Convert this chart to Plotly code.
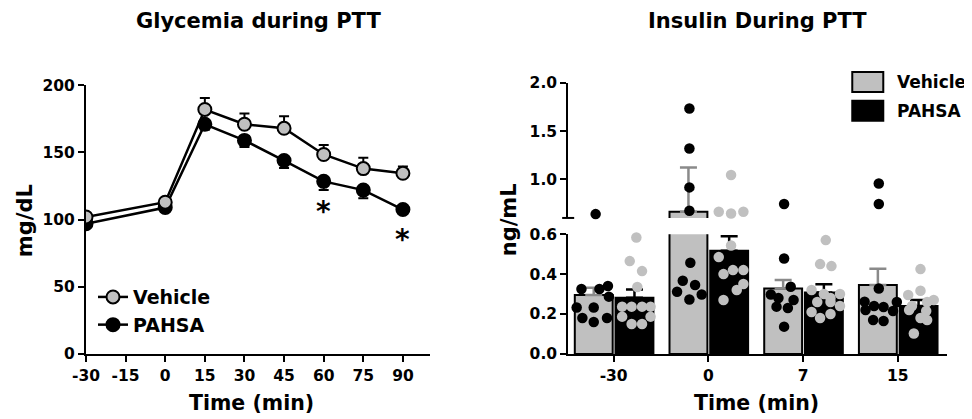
import plotly.graph_objects as go

# ---------------- data ----------------
glyc_time = [-30, 0, 15, 30, 45, 60, 75, 90]
glyc_ticks = [-30, -15, 0, 15, 30, 45, 60, 75, 90]
veh_glu = [102, 113, 182, 171, 168, 148.5, 138, 134.5]
veh_glu_sem = [2, 2, 8.5, 8, 9, 7, 8, 5]
pah_glu = [97, 109, 171, 159, 144, 128.5, 122, 107.5]
pah_glu_sem = [2, 2, 4, 5, 5.5, 6.5, 6, 3]
sig_times = [60, 90]

ins_cats = ['-30', '0', '7', '15']
veh_ins_mean = [0.295, 0.664, 0.328, 0.345]
veh_ins_sem = [0.037, 0.46, 0.042, 0.082]
pah_ins_mean = [0.282, 0.517, 0.308, 0.24]
pah_ins_sem = [0.041, 0.073, 0.041, 0.03]

veh_ins_pts = [
    [0.64, 0.325, 0.325, 0.34, 0.233, 0.233, 0.287, 0.18, 0.16, 0.18],
    [1.736, 1.32, 0.917, 0.675, 0.457, 0.367, 0.345, 0.312, 0.298, 0.273],
    [0.744, 0.478, 0.337, 0.298, 0.28, 0.27, 0.237, 0.23, 0.137],
    [0.958, 0.744, 0.328, 0.262, 0.24, 0.235, 0.26, 0.22, 0.215, 0.17, 0.165],
]
veh_ins_jit = [
    [0.02, -0.13, 0.06, 0.15, -0.18, 0.0, 0.16, -0.12, 0.0, 0.14],
    [0.01, 0.01, 0.01, 0.01, 0.02, -0.06, 0.07, -0.12, 0.14, 0.01],
    [0.01, 0.01, 0.08, -0.13, -0.05, 0.11, -0.07, 0.05, 0.01],
    [0.01, 0.01, 0.01, -0.14, -0.04, 0.06, 0.2, -0.13, 0.16, -0.05, 0.06],
]
pah_ins_pts = [
    [0.583, 0.465, 0.415, 0.335, 0.237, 0.237, 0.237, 0.237, 0.187, 0.187, 0.15, 0.15],
    [1.045, 0.664, 0.647, 0.664, 0.543, 0.485, 0.42, 0.42, 0.40, 0.35, 0.32, 0.27],
    [0.57, 0.45, 0.44, 0.32, 0.30, 0.30, 0.28, 0.26, 0.26, 0.24, 0.21, 0.20, 0.18],
    [0.425, 0.317, 0.295, 0.27, 0.26, 0.24, 0.22, 0.215, 0.18, 0.17, 0.103],
]
pah_ins_jit = [
    [0.02, -0.05, 0.08, 0.03, -0.13, -0.03, 0.08, 0.17, -0.13, 0.17, -0.03, 0.08],
    [0.02, -0.11, 0.02, 0.15, 0.02, -0.11, 0.04, 0.15, -0.06, 0.15, 0.08, -0.06],
    [0.02, -0.04, 0.08, -0.13, 0.0, 0.17, 0.07, -0.07, 0.07, 0.17, -0.13, 0.07, -0.04],
    [0.02, 0.02, -0.11, 0.16, 0.09, -0.07, -0.1, 0.08, 0.02, 0.09, -0.05],
]
break_val = 0.6

# ---------------- layout helpers (window pixel -> paper) ----------------
OFF = 8                      # page body margin
W, H = 972 - OFF, 419 - OFF
L, T = 86 - OFF, 82.7 - OFF
R = W - (946.7 - OFF)
B = H - (354 - OFF)
PW, PH = W - L - R, H - T - B


def px_x(px):
    return (px - OFF - L) / PW


def px_y(py):
    return (H + OFF - B - py) / PH


FONT = "DejaVu Sans"
GRAY = "#c0c0c0"
EGRAY = "#8a8a8a"
VOFF, POFF, BW = -0.21, 0.22, 0.40

fig = go.Figure()

# ---------------- left: glycemia ----------------
fig.add_trace(go.Scatter(
    x=glyc_time, y=pah_glu, name="PAHSA", mode="lines+markers", legendrank=2,
    line=dict(color="black", width=2.5),
    marker=dict(size=13, color="black", line=dict(color="black", width=2)),
    error_y=dict(type="data", symmetric=False, array=[0] * len(pah_glu_sem),
                 arrayminus=pah_glu_sem, color="black", thickness=2, width=5),
    xaxis="x", yaxis="y"))
fig.add_trace(go.Scatter(
    x=glyc_time, y=veh_glu, name="Vehicle", mode="lines+markers", legendrank=1,
    line=dict(color="black", width=2.5),
    marker=dict(size=13, color=GRAY, line=dict(color="black", width=2)),
    error_y=dict(type="data", symmetric=False, array=veh_glu_sem,
                 arrayminus=[0] * len(veh_glu_sem), color="black", thickness=2, width=5),
    xaxis="x", yaxis="y"))

for t in sig_times:
    i = glyc_time.index(t)
    fig.add_annotation(x=t, y=pah_glu[i], xref="x", yref="y", text="<b>*</b>",
                       showarrow=False, yshift=-30, xanchor="center", yanchor="middle",
                       font=dict(family=FONT, size=28, color="black"))

# ---------------- right: insulin ----------------
idx = list(range(len(ins_cats)))
for ax in ["y2", "y3"]:
    fig.add_trace(go.Bar(x=[i + VOFF for i in idx], y=veh_ins_mean, width=BW,
                         marker=dict(color=GRAY, line=dict(color="black", width=2)),
                         showlegend=False, xaxis="x2", yaxis=ax))
    fig.add_trace(go.Bar(x=[i + POFF for i in idx], y=pah_ins_mean, width=BW,
                         marker=dict(color="black", line=dict(color="black", width=2)),
                         showlegend=False, xaxis="x2", yaxis=ax))

# error bars (one-sided, upward)
for means, sems, off, col in [(veh_ins_mean, veh_ins_sem, VOFF, EGRAY),
                              (pah_ins_mean, pah_ins_sem, POFF, "black")]:
    for ax, cond in [("y2", lambda v: v < break_val), ("y3", lambda v: v >= break_val)]:
        sel = [i for i in idx if cond(means[i])]
        if not sel:
            continue
        fig.add_trace(go.Scatter(
            x=[i + off for i in sel], y=[means[i] for i in sel], mode="markers",
            marker=dict(size=1, color="rgba(0,0,0,0)"), showlegend=False,
            error_y=dict(type="data", symmetric=False, array=[sems[i] for i in sel],
                         arrayminus=[0] * len(sel), color=col, thickness=2.5, width=8.5),
            cliponaxis=False, xaxis="x2", yaxis=ax))

# individual points
for pts, jit, off, col in [(veh_ins_pts, veh_ins_jit, VOFF, "black"),
                           (pah_ins_pts, pah_ins_jit, POFF, GRAY)]:
    for ax, cond in [("y2", lambda v: v < break_val), ("y3", lambda v: v >= break_val)]:
        xs, ys = [], []
        for i in idx:
            for v, j in zip(pts[i], jit[i]):
                if cond(v):
                    xs.append(i + off + j)
                    ys.append(v)
        fig.add_trace(go.Scatter(x=xs, y=ys, mode="markers",
                                 marker=dict(size=10.5, color=col, line=dict(width=0)),
                                 showlegend=False, cliponaxis=False, xaxis="x2", yaxis=ax))

# ---------------- axes ----------------
axis_common = dict(showline=True, linecolor="black", linewidth=2, ticks="outside",
                   ticklen=6, tickwidth=2, tickcolor="black", showgrid=False,
                   zeroline=False,
                   tickfont=dict(family=FONT, size=15.5, color="black", weight="bold"))

fig.update_layout(
    xaxis=dict(domain=[0, px_x(430)], range=[-30, 100.3], anchor="y",
               tickvals=glyc_ticks, ticktext=[str(v) for v in glyc_ticks], **axis_common),
    yaxis=dict(domain=[0, px_y(85)], range=[0, 200], anchor="x",
               tickvals=[0, 50, 100, 150, 200], **axis_common),
    xaxis2=dict(domain=[px_x(568), 1], range=[-0.48, 3.52], anchor="y2",
                tickvals=idx, ticktext=ins_cats, **axis_common),
    yaxis2=dict(domain=[0, px_y(234)], range=[0, break_val], anchor="x2",
                tickvals=[0, 0.2, 0.4, 0.6], ticktext=["0.0", "0.2", "0.4", "0.6"],
                **axis_common),
    yaxis3=dict(domain=[px_y(217.8), 1], range=[break_val, 2.0], anchor="x2",
                tickvals=[1.0, 1.5, 2.0], ticktext=["1.0", "1.5", "2.0"], **axis_common),
)

# axis break end mark
fig.add_shape(type="line", xref="paper", yref="paper",
              x0=px_x(562), x1=px_x(574), y0=px_y(217.8), y1=px_y(217.8),
              line=dict(color="black", width=2))

# right legend (manual swatches)
for name, fill, top in [("Vehicle", GRAY, 71.7), ("PAHSA", "black", 100.5)]:
    fig.add_shape(type="rect", xref="paper", yref="paper",
                  x0=px_x(852), x1=px_x(883), y0=px_y(top + 20), y1=px_y(top),
                  fillcolor=fill, line=dict(color="black", width=2))
    fig.add_annotation(xref="paper", yref="paper", x=px_x(895), y=px_y(top + 10),
                       xanchor="left", yanchor="middle", showarrow=False, text=name,
                       font=dict(family=FONT, size=17, color="black", weight="bold"))

# titles and axis titles
txt = dict(family=FONT, color="black", weight="bold")
common_ann = dict(xref="paper", yref="paper", showarrow=False,
                  xanchor="center", yanchor="middle")
fig.add_annotation(x=px_x(258), y=px_y(21), text="Glycemia during PTT",
                   font=dict(size=21, **txt), **common_ann)
fig.add_annotation(x=px_x(757), y=px_y(21), text="Insulin During PTT",
                   font=dict(size=21, **txt), **common_ann)
fig.add_annotation(x=px_x(251), y=px_y(403), text="Time (min)",
                   font=dict(size=20.5, **txt), **common_ann)
fig.add_annotation(x=px_x(756), y=px_y(403), text="Time (min)",
                   font=dict(size=20.5, **txt), **common_ann)
fig.add_annotation(x=px_x(25), y=px_y(220), text="mg/dL", textangle=-90,
                   font=dict(size=21, **txt), **common_ann)
fig.add_annotation(x=px_x(509), y=px_y(220), text="ng/mL", textangle=-90,
                   font=dict(size=21, **txt), **common_ann)

fig.update_layout(
    width=W, height=H, margin=dict(l=L, r=R, t=T, b=B, pad=0),
    paper_bgcolor="white", plot_bgcolor="white", barmode="overlay",
    font=dict(family=FONT, color="black"),
    showlegend=True,
    legend=dict(x=px_x(93), y=px_y(278), xanchor="left", yanchor="top",
                traceorder="normal", tracegroupgap=1,
                bgcolor="rgba(0,0,0,0)", borderwidth=0,
                font=dict(family=FONT, size=19, color="black", weight="bold")),
)

fig.write_html("out.html")
